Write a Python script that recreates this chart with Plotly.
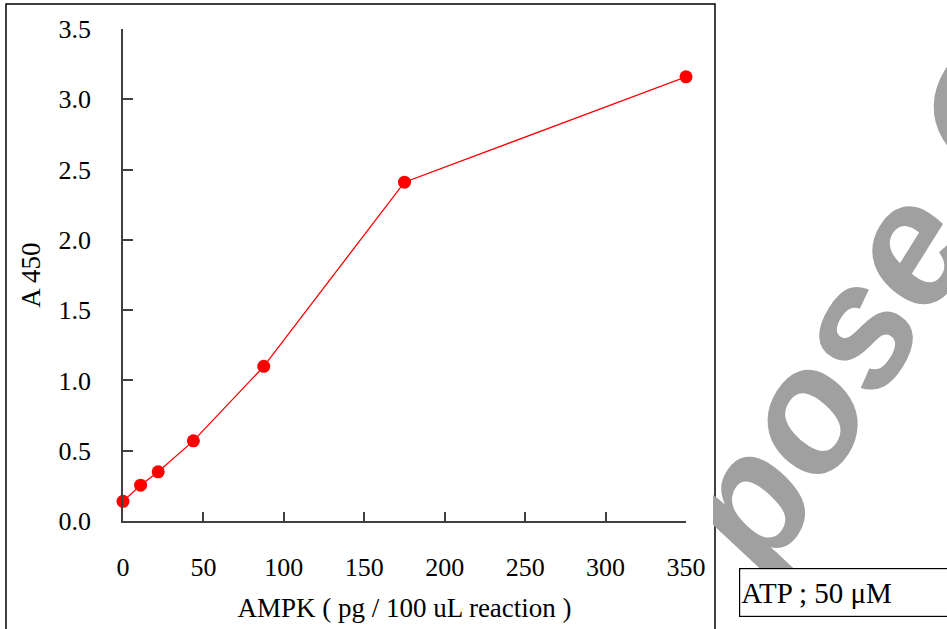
import plotly.graph_objects as go

# data
ampk_pg = [0, 10.9375, 21.875, 43.75, 87.5, 175, 350]
a450 = [0.14, 0.255, 0.35, 0.57, 1.10, 2.41, 3.16]
x_ticks = [0, 50, 100, 150, 200, 250, 300, 350]
y_ticks = [0.0, 0.5, 1.0, 1.5, 2.0, 2.5, 3.0, 3.5]
y_ticklabels = ["0.0", "0.5", "1.0", "1.5", "2.0", "2.5", "3.0", "3.5"]

serif = "Liberation Serif, Times New Roman, serif"

fig = go.Figure()
fig.add_trace(go.Scatter(
    x=ampk_pg, y=a450, mode="lines+markers",
    line=dict(color="#ff0000", width=1.3),
    marker=dict(color="#ff0000", size=13),
    cliponaxis=False, showlegend=False,
))

# plot area pixel geometry
L, R, T, B = 123, 686, 29, 521
W, H = 947, 629
pw, ph = R - L, B - T
def px(x):
    return (x - L) / pw
def py(y):
    return (B - y) / ph

fig.update_layout(
    width=W, height=H,
    margin=dict(l=L, r=W - R, t=T, b=H - B),
    paper_bgcolor="white", plot_bgcolor="white",
    font=dict(family=serif, size=26, color="black"),
    xaxis=dict(
        range=[0, 350], tickvals=x_ticks, ticks="inside", ticklen=9,
        tickcolor="#404040", tickwidth=1.5,
        showline=True, linecolor="#404040", linewidth=1.5,
        showgrid=False, zeroline=False, ticklabelstandoff=22,
        tickfont=dict(family=serif, size=26),
        title=dict(text="AMPK ( pg / 100 uL reaction )", standoff=17,
                   font=dict(family=serif, size=27)),
        automargin=False,
    ),
    yaxis=dict(
        range=[0, 3.5], tickvals=y_ticks, ticktext=y_ticklabels,
        ticks="inside", ticklen=10,
        tickcolor="#404040", tickwidth=1.5,
        showline=True, linecolor="#404040", linewidth=1.5,
        showgrid=False, zeroline=False, ticklabelstandoff=25,
        tickfont=dict(family=serif, size=26),
        title=dict(text="A 450", standoff=10,
                   font=dict(family=serif, size=27)),
        automargin=False,
    ),
)

# watermark (behind the chart box in the original)
fig.add_annotation(
    xref="paper", yref="paper", x=px(870), y=py(303),
    text="<b><i>pose O</i></b>", textangle=-58, showarrow=False,
    font=dict(family="Liberation Sans, Arial, sans-serif", size=172, color="#a0a0a0"),
    xanchor="center", yanchor="middle",
)
# white mask keeping the watermark outside the chart box
fig.add_annotation(
    xref="paper", yref="paper", x=px(690), y=py(380),
    text=" ", showarrow=False, xanchor="left", yanchor="top",
    width=23, height=170, bgcolor="white", borderwidth=0, borderpad=0,
)

# outer chart box
fig.add_shape(type="rect", xref="paper", yref="paper",
              x0=px(6), x1=px(715), y0=py(660), y1=py(4),
              line=dict(color="black", width=1.5), fillcolor="rgba(0,0,0,0)", layer="above")

# ATP box (annotation so it sits above the watermark)
fig.add_annotation(
    xref="paper", yref="paper", x=px(739), y=py(592),
    text="ATP ; 50 μM", showarrow=False, xanchor="left", yanchor="middle",
    align="left", width=260, height=45,
    bgcolor="white", bordercolor="black", borderwidth=1.2, borderpad=1,
    font=dict(family=serif, size=29, color="black"),
)

fig.write_html("out.html", config={"displayModeBar": False},
               post_script="document.body.style.margin='0px';")
